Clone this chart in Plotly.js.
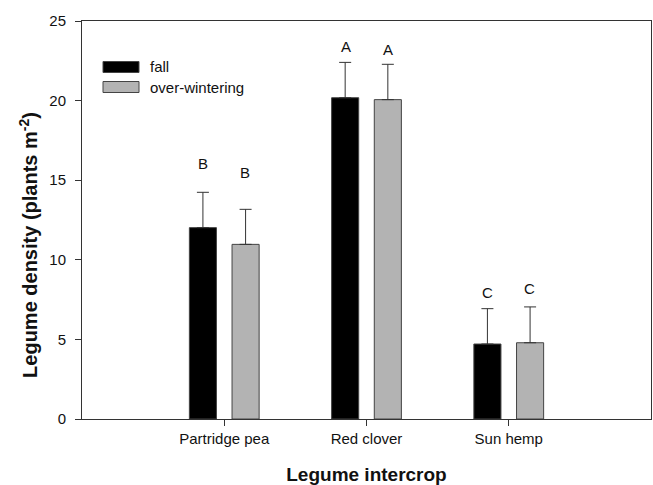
<!DOCTYPE html>
<html>
<head>
<meta charset="utf-8">
<script src="https://cdn.plot.ly/plotly-3.0.1.min.js"></script>
<style>html,body{margin:0;padding:0;background:#fff;}#chart{width:653px;height:485px;}</style>
</head>
<body>
<div id="chart"></div>
<script>
const categories = ["Partridge pea", "Red clover", "Sun hemp"];
const fallValues = [12.02, 20.18, 4.71];
const fallErrors = [2.22, 2.22, 2.22];
const overValues = [10.97, 20.06, 4.79];
const overErrors = [2.2, 2.22, 2.25];
const fallLetters = ["B", "A", "C"];
const overLetters = ["B", "A", "C"];
const yTicks = [0, 5, 10, 15, 20, 25];

const FONT = "Liberation Sans, Arial, Helvetica, sans-serif";
const fallLift = [29, 16, 16];
const overLift = [37, 15, 18];

const errStyle = {type: "data", symmetric: false, color: "#333", thickness: 1, width: 6};

const traces = [
  {type: "bar", name: "fall", x: categories, y: fallValues,
   marker: {color: "#000000", line: {color: "#444", width: 1}},
   error_y: Object.assign({array: fallErrors, arrayminus: [0,0,0]}, errStyle),
   showlegend: false, hoverinfo: "none"},
  {type: "bar", name: "over-wintering", x: categories, y: overValues,
   marker: {color: "#b3b3b3", line: {color: "#444", width: 1}},
   error_y: Object.assign({array: overErrors, arrayminus: [0,0,0]}, errStyle),
   showlegend: false, hoverinfo: "none"}
];

const annotations = [];
categories.forEach((c, i) => {
  annotations.push({x: c, y: fallValues[i] + fallErrors[i], xref: "x", yref: "y",
    text: fallLetters[i], showarrow: false, xshift: -21, yshift: fallLift[i],
    yanchor: "middle", font: {family: FONT, size: 15, color: "#111"}});
  annotations.push({x: c, y: overValues[i] + overErrors[i], xref: "x", yref: "y",
    text: overLetters[i], showarrow: false, xshift: 21, yshift: overLift[i],
    yanchor: "middle", font: {family: FONT, size: 15, color: "#111"}});
});
// y-axis title
annotations.push({xref: "paper", yref: "paper", x: 0, y: 0.465, xshift: -53, yshift: -11,
  xanchor: "center", yanchor: "middle",
  text: "Legume density (plants m<sup>-2</sup>)", textangle: -90, showarrow: false,
  font: {family: FONT, size: 20, color: "#111", weight: "bold"}});
// legend text
const legendNames = ["fall", "over-wintering"];
const legendColors = ["#000000", "#b3b3b3"];
const legendY = [67, 87];
const shapes = [];
legendNames.forEach((n, i) => {
  const yp = (419 - legendY[i]) / 398;
  annotations.push({xref: "paper", yref: "paper", x: (148 - 82) / 569, y: yp,
    xanchor: "left", yanchor: "middle", text: n, showarrow: false,
    font: {family: FONT, size: 15, color: "#111"}});
  shapes.push({type: "rect", xref: "paper", yref: "paper",
    x0: (103 - 82) / 569, x1: (139 - 82) / 569,
    y0: yp - 5.5 / 398, y1: yp + 5.5 / 398,
    fillcolor: legendColors[i], line: {color: "#444", width: 1}});
});

const layout = {
  width: 653, height: 485,
  margin: {l: 82, r: 2, t: 21, b: 66, pad: 0},
  paper_bgcolor: "#fff", plot_bgcolor: "#fff",
  barmode: "group", bargap: 0.4, bargroupgap: 0.365,
  showlegend: false,
  font: {family: FONT, size: 15, color: "#111"},
  xaxis: {type: "category", range: [-1, 3], showline: true, mirror: true,
    linecolor: "#333", linewidth: 1, ticks: "outside", ticklen: 6, tickcolor: "#333",
    showgrid: false, zeroline: false,
    tickfont: {family: FONT, size: 15, color: "#111"},
    title: {text: "Legume intercrop", standoff: 24,
      font: {family: FONT, size: 19, color: "#111", weight: "bold"}}},
  yaxis: {range: [0, 25], tickvals: yTicks, showline: true, mirror: true,
    linecolor: "#333", linewidth: 1, ticks: "outside", ticklen: 6, tickcolor: "#333",
    showgrid: false, zeroline: false, ticklabelstandoff: 6,
    tickfont: {family: FONT, size: 15, color: "#111"}},
  annotations: annotations,
  shapes: shapes
};

Plotly.newPlot("chart", traces, layout, {displayModeBar: false, staticPlot: true});
</script>
</body>
</html>
